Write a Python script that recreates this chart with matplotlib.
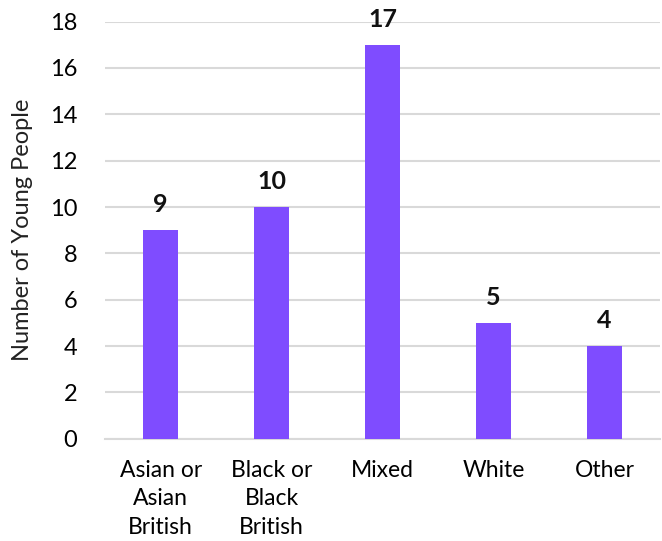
import matplotlib
matplotlib.use("Agg")
import matplotlib.pyplot as plt

categories = ["Asian or\nAsian\nBritish", "Black or\nBlack\nBritish", "Mixed", "White", "Other"]
values = [9, 10, 17, 5, 4]
yticks = [0, 2, 4, 6, 8, 10, 12, 14, 16, 18]

plt.rcParams['font.family'] = ['Lato', 'DejaVu Sans']

fig = plt.figure(figsize=(6.62, 5.41), dpi=100)
ax = fig.add_axes([0.159, 0.189, 0.838, 0.771])

x = range(len(categories))
ax.bar(x, values, width=0.32, color="#7F4CFF", zorder=3)
for i, v in enumerate(values):
    ax.text(i, v + 0.6, str(v), ha="center", va="bottom", fontsize=18, fontweight="bold", color="#111111")

ax.set_xlim(-0.5, 4.5)
ax.set_ylim(0, 18)
ax.set_yticks(yticks)
ax.set_xticks(list(x))
ax.set_xticklabels(categories, fontsize=16.5, linespacing=1.45)
ax.tick_params(axis="y", labelsize=17, length=0, pad=20)
ax.tick_params(axis="x", length=0, pad=15)
ax.yaxis.grid(True, color="#d9d9d9", linewidth=1.5, zorder=0)
for s in ["top", "right", "left"]:
    ax.spines[s].set_visible(False)
ax.spines["bottom"].set_color("#d9d9d9")
ax.spines["bottom"].set_linewidth(1.5)
ax.set_ylabel("Number of Young People", fontsize=17, labelpad=12, color="#222222")

fig.savefig("out.png", dpi=100)
